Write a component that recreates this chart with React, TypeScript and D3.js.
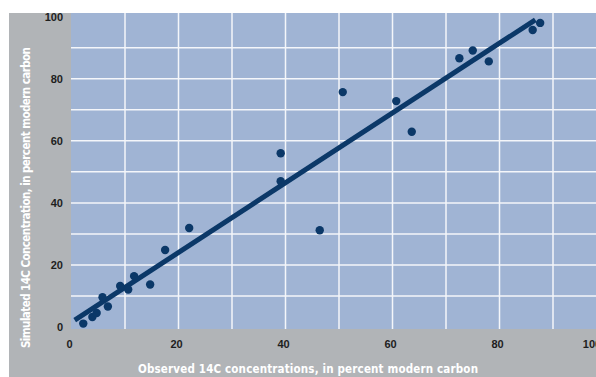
import React from "react";
import * as d3 from "d3";

// Observed vs. simulated 14C, percent modern carbon
const observed = [2.2, 3.9, 4.7, 5.8, 6.8, 9.1, 10.6, 11.7, 14.7, 17.5, 22.0, 39.1, 39.1, 46.4, 50.7, 60.7, 63.6, 72.5, 75.0, 78.0, 86.2, 87.6];
const simulated = [1.1, 3.2, 4.5, 9.6, 6.6, 13.2, 12.1, 16.4, 13.7, 24.8, 31.9, 56.0, 47.0, 31.2, 75.7, 72.8, 62.9, 86.6, 89.1, 85.6, 95.7, 98.0];

// Fitted line endpoints (observed, simulated)
const fitX = [0.6, 86.7];
const fitY = [2.2, 99.0];

const xTicks = [0, 20, 40, 60, 80, 100];
const yTicks = [0, 20, 40, 60, 80, 100];
const gridValues = [10, 20, 30, 40, 50, 60, 70, 80, 90];

const W = 596;
const H = 377;

export default function App() {
  const x = d3.scaleLinear().domain([0, 100]).range([71.5, 606.5]);
  const y = d3.scaleLinear().domain([0, 100]).range([327, 16.7]);

  const plotLeft = 71;
  const plotTop = 13;
  const plotBottom = 329;

  const fitLine = d3
    .line<number>()
    .x((_, i) => x(fitX[i]))
    .y((_, i) => y(fitY[i]))(fitX) as string;

  const navy = "#0b3868";
  const tickFont = "'Liberation Sans', Arial, sans-serif";
  const titleFont = "'DejaVu Sans Condensed', 'DejaVu Sans', sans-serif";

  // the last x label sits against the right edge of the frame
  const xLabelPos = (v: number) => Math.min(x(v) - 2, 592);

  return (
    <svg
      width={W}
      height={H}
      style={{ position: "absolute", left: 0, top: 0, display: "block" }}
    >
      <rect x={0} y={0} width={W} height={H} fill="#ffffff" />
      <rect x={9} y={13} width={W - 9} height={H - 13} fill="#b1b4b7" />
      <rect x={plotLeft} y={plotTop} width={W - plotLeft} height={plotBottom - plotTop} fill="#a0b4d4" />

      {/* grid */}
      {gridValues.map((v) => (
        <line key={"h" + v} x1={plotLeft} x2={W} y1={y(v)} y2={y(v)} stroke="#f4f6fa" strokeWidth={1.5} />
      ))}
      {gridValues.concat([100]).map((v) => (
        <line key={"v" + v} x1={x(v)} x2={x(v)} y1={plotTop} y2={plotBottom} stroke="#f4f6fa" strokeWidth={1.5} />
      ))}

      {/* fitted line */}
      <path d={fitLine} stroke={navy} strokeWidth={5} fill="none" />

      {/* points */}
      {observed.map((o, i) => (
        <circle key={i} cx={x(o)} cy={y(simulated[i])} r={4.2} fill={navy} />
      ))}

      {/* tick labels */}
      {yTicks.map((v) => (
        <text
          key={"yt" + v}
          x={63}
          y={y(v) + 4}
          textAnchor="end"
          fontFamily={tickFont}
          fontWeight="bold"
          fontSize={11}
          fill="#1e1e1e"
        >
          {v}
        </text>
      ))}
      {xTicks.map((v) => (
        <text
          key={"xt" + v}
          x={xLabelPos(v)}
          y={348}
          textAnchor="middle"
          fontFamily={tickFont}
          fontWeight="bold"
          fontSize={11}
          fill="#1e1e1e"
        >
          {v}
        </text>
      ))}

      {/* axis titles */}
      <text
        x={138}
        y={373}
        textLength={340}
        lengthAdjust="spacing"
        fontFamily={titleFont}
        fontWeight="bold"
        fontSize={11.5}
        fill="#ffffff"
      >
        Observed 14C concentrations, in percent modern carbon
      </text>
      <text
        transform={`translate(30,348) rotate(-90)`}
        x={0}
        y={0}
        textLength={301}
        lengthAdjust="spacing"
        fontFamily={titleFont}
        fontWeight="bold"
        fontSize={11.5}
        fill="#ffffff"
      >
        Simulated 14C Concentration, in percent modern carbon
      </text>
    </svg>
  );
}
